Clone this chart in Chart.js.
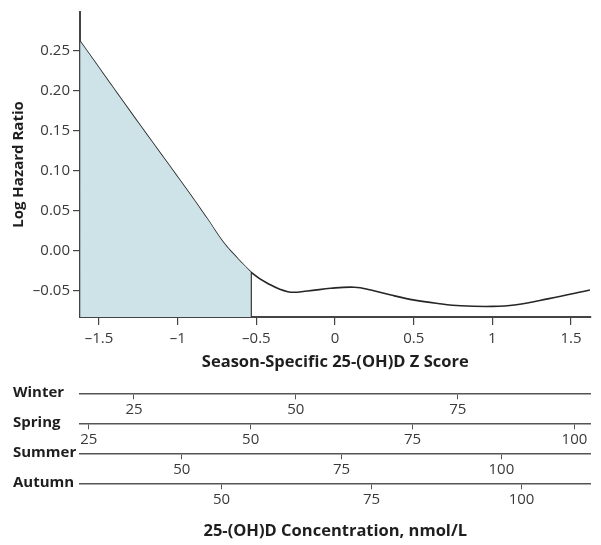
<!DOCTYPE html>
<html>
<head>
<meta charset="utf-8">
<script src="https://cdn.jsdelivr.net/npm/chart.js@4"></script>
<style>
  html, body { margin: 0; padding: 0; background: #fff; }
  #wrap { width: 601px; height: 545px; }
</style>
</head>
<body>
<div id="wrap"><canvas id="hr"></canvas></div>
<script>
/* log hazard ratio vs season-specific 25-(OH)D z score, with season concentration scales below */
const Z_SCORE = [-1.62, -1.24, -1.03, -0.92, -0.81, -0.71, -0.62, -0.535, -0.43, -0.30, -0.175, -0.027, 0.122, 0.228, 0.356, 0.505, 0.654, 0.80, 1.0, 1.14, 1.36, 1.62];
const LOG_HR  = [0.262, 0.157, 0.100, 0.070, 0.039, 0.010, -0.010, -0.027, -0.041, -0.0517, -0.0508, -0.0474, -0.0461, -0.0495, -0.0559, -0.0622, -0.0664, -0.0693, -0.0701, -0.0684, -0.0604, -0.0496];
const CUTOFF = -0.535;   // shaded area ends here

const X_TICKS = [-1.5, -1, -0.5, 0, 0.5, 1, 1.5];
const Y_TICKS = [-0.05, 0, 0.05, 0.10, 0.15, 0.20, 0.25];

const SEASONS = ["Winter", "Spring", "Summer", "Autumn"];
const SEASON_TICKS = [[25, 50, 75], [25, 50, 75, 100], [50, 75, 100], [50, 75, 100]];
const SEASON_RANGE = [[16.66, 95.51], [23.64, 102.48], [34.07, 113.94], [26.42, 111.5]];

const FONT = "'Open Sans', 'Noto Sans', sans-serif";
const INK = "#1e1e1e", AXIS = "#444", TICK_TXT = "#3a3a3a";

const dash = v => (v < 0 ? "\u2013" : "") + Math.abs(v);
const pts = Z_SCORE.map((z, i) => ({ x: z, y: LOG_HR[i] }));
const shaded = pts.filter(p => p.x <= CUTOFF);
const cutY = LOG_HR[Z_SCORE.indexOf(CUTOFF)];

const fixTicks = list => s => { s.ticks = list.map(v => ({ value: v })); };
const setH = h => s => { s.height = h; };

const scales = {
  x: {
    type: "linear", min: -1.621, max: 1.624, weight: 0,
    afterBuildTicks: fixTicks(X_TICKS), afterFit: setH(76.3),
    border: { color: AXIS, width: 2 },
    grid: { drawOnChartArea: false, tickLength: 8, color: AXIS, lineWidth: 1.2 },
    ticks: { padding: 4.3, color: TICK_TXT, font: { family: FONT, size: 15 }, maxRotation: 0, autoSkip: false, callback: v => dash(v) },
    title: { display: true, text: "Season-Specific 25-(OH)D Z Score", color: INK,
             font: { family: FONT, size: 16.5, weight: "bold" }, padding: { top: 0, bottom: 20.7 } },
  },
  y: {
    type: "linear", min: -0.0834, max: 0.299,
    afterBuildTicks: fixTicks(Y_TICKS), afterFit: s => { s.width = 80; },
    border: { color: AXIS, width: 2 },
    grid: { drawOnChartArea: false, tickLength: 7, color: AXIS, lineWidth: 1.2 },
    ticks: { padding: 3, color: TICK_TXT, font: { family: FONT, size: 15 },
             callback: v => (v < 0 ? "\u2013" : "") + Math.abs(v).toFixed(2) },
    title: { display: true, text: "Log Hazard Ratio", color: INK,
             font: { family: FONT, size: 15, weight: "bold" }, padding: { top: 10, bottom: 0 } },
  },
};

SEASONS.forEach((name, i) => {
  const last = i === SEASONS.length - 1;
  scales[name] = {
    type: "linear", axis: "x", position: "bottom", weight: i + 1,
    min: SEASON_RANGE[i][0], max: SEASON_RANGE[i][1],
    afterBuildTicks: fixTicks(SEASON_TICKS[i]), afterFit: setH(last ? 61.7 : 30),
    border: { color: "#555", width: 1.5 },
    grid: { drawOnChartArea: false, tickLength: 6, color: "#555", lineWidth: 1 },
    ticks: { padding: 1, color: TICK_TXT, font: { family: FONT, size: 15 }, maxRotation: 0, autoSkip: false },
    title: last
      ? { display: true, text: "25-(OH)D Concentration, nmol/L", color: INK,
          font: { family: FONT, size: 16.5, weight: "bold" }, padding: { top: 0, bottom: 3.4 } }
      : { display: false },
  };
});

// season names sit at the left end of each concentration scale
const seasonNames = {
  id: "seasonNames",
  afterDraw(chart) {
    const ctx = chart.ctx;
    ctx.save();
    ctx.font = "bold 15px " + FONT;
    ctx.fillStyle = INK;
    ctx.textBaseline = "middle";
    SEASONS.forEach(name => ctx.fillText(name, 13, chart.scales[name].top - 1));
    ctx.restore();
  },
};

new Chart(document.getElementById("hr"), {
  type: "line",
  data: {
    datasets: [
      { data: shaded, fill: "start", backgroundColor: "#cde3e8", borderWidth: 0,
        pointRadius: 0, tension: 0.4 },
      { data: pts, fill: false, borderColor: "#262626", borderWidth: 1.6,
        pointRadius: 0, tension: 0.4 },
      { data: [{ x: CUTOFF, y: cutY }, { x: CUTOFF, y: -0.0834 }], fill: false,
        borderColor: "#3a3a3a", borderWidth: 2.2, pointRadius: 0, tension: 0 },
    ],
  },
  options: {
    responsive: true, maintainAspectRatio: false, animation: false,
    layout: { padding: { top: 12, right: 10.5, bottom: 0, left: 0 } },
    plugins: { legend: { display: false }, tooltip: { enabled: false } },
    scales,
  },
  plugins: [seasonNames],
});
</script>
</body>
</html>
